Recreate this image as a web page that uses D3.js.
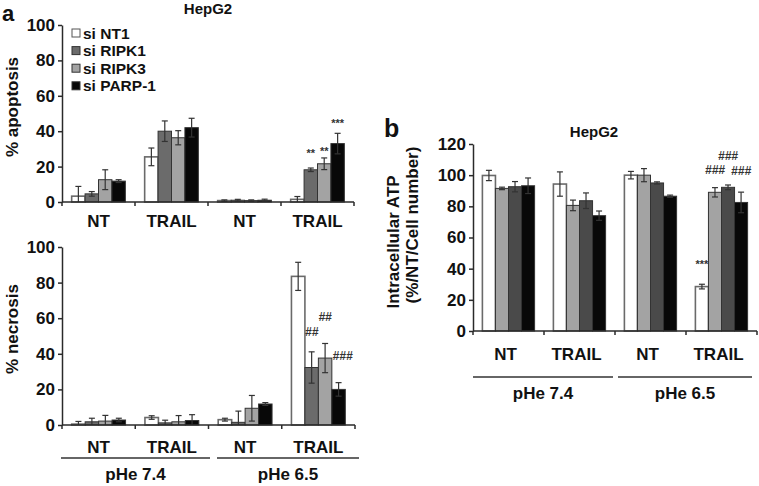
<!DOCTYPE html>
<html><head><meta charset="utf-8">
<script src="https://cdn.jsdelivr.net/npm/d3@7/dist/d3.min.js"></script>
<style>
body{margin:0;background:#fff;}
svg{display:block;font-family:"Liberation Sans",Arial,sans-serif;font-weight:bold;}
</style></head><body>
<svg id="c" width="759" height="486"></svg>
<script>
// ---- data ----
const groups = ["NT|7.4", "TRAIL|7.4", "NT|6.5", "TRAIL|6.5"];
const groupLabels = ["NT", "TRAIL", "NT", "TRAIL"];
const phLabels = ["pHe 7.4", "pHe 6.5"];
const series = ["si NT1", "si RIPK1", "si RIPK3", "si PARP-1"];

// % apoptosis (rows: group, cols: series)
const apoptosis = [[3.3, 4.6, 12.6, 11.8], [25.5, 40, 36.3, 42], [0.8, 1.0, 0.8, 1.0], [1.5, 18.2, 21.6, 33]];
const apoptosisErr = [[5.5, 1.3, 5.6, 0.8], [5, 5.8, 4, 5.3], [0.4, 0.5, 0.4, 0.6], [1.6, 1, 3.3, 5.8]];
// % necrosis
const necrosis = [[0.5, 1.8, 2.2, 2.8], [4.2, 1.2, 1.8, 2.5], [3, 1.5, 9.4, 11.8], [83.5, 32.3, 37.6, 20]];
const necrosisErr = [[1.5, 2, 3.2, 1], [1, 1.5, 3.5, 3.3], [0.8, 6.3, 7.2, 0.8], [7.9, 8.8, 8.2, 3.8]];
// Intracellular ATP
const atp = [[99.8, 91.5, 92.6, 93.2], [94.3, 80.6, 83.6, 74], [100, 100, 95, 86.5], [28.5, 89, 92.2, 82.5]];
const atpErr = [[3.3, 0.8, 3.3, 5], [7.8, 3.4, 5, 3], [2.4, 4.2, 0.7, 0.7], [1.5, 3, 1.5, 6.6]];

const apoTicks = [0, 20, 40, 60, 80, 100];
const necTicks = [0, 20, 40, 60, 80, 100];
const atpTicks = [0, 20, 40, 60, 80, 100, 120];

// significance marks: [group, series, label, value]
const apoMarks = [[3, 1, "**", 27], [3, 2, "**", 28], [3, 3, "***", 44]];
const necMarks = [[3, 1, "##", 52], [3, 2, "##", 60], [3, 3, "###", 38.5]];
const atpMarks = [[3, 0, "***", 42], [3, 1, "###", 103], [3, 2, "###", 112], [3, 3, "###", 102]];

const colorsA = ["#ffffff", "#6b6b6b", "#a3a3a3", "#080808"];
const colorsB = ["#ffffff", "#a3a3a3", "#4a4a4a", "#080808"];

const svg = d3.select("#c");
const AX = "#2a2a2a";

function panel(opt) {
  const x = d3.scaleBand().domain(groups).range([opt.x0, opt.x1]).padding(0);
  const xi = d3.scaleBand().domain(d3.range(4)).range([0, x.bandwidth()]).paddingInner(0).paddingOuter(0.72);
  const y = d3.scaleLinear().domain([0, opt.max]).range([opt.yb, opt.yt]);
  const g = svg.append("g");

  // y axis
  const ya = g.append("g").attr("transform", `translate(${opt.x0},0)`)
    .call(d3.axisLeft(y).tickValues(opt.ticks).tickSize(4).tickSizeOuter(0).tickPadding(3));
  ya.select(".domain").attr("stroke", AX).attr("stroke-width", 1.5);
  ya.selectAll(".tick line").attr("stroke", AX).attr("stroke-width", 1.5);
  ya.selectAll(".tick text").attr("font-size", 17).attr("font-family", "Liberation Sans, Arial").attr("font-weight", "bold").attr("fill", "#111");

  // bars
  opt.data.forEach((row, gi) => {
    row.forEach((v, si) => {
      const bx = x(groups[gi]) + xi(si);
      const bw = xi.bandwidth();
      g.append("rect").attr("x", bx).attr("y", y(v)).attr("width", bw).attr("height", y(0) - y(v))
        .attr("fill", opt.colors[si]).attr("stroke", si === 0 ? "#6a6a6a" : "#333").attr("stroke-width", si === 0 ? 1.6 : 1);
      const e = opt.err[gi][si];
      const cx = bx + bw / 2;
      const eg = g.append("g").attr("stroke", "#333").attr("stroke-width", 1.2);
      eg.append("line").attr("x1", cx).attr("x2", cx).attr("y1", y(Math.max(0, v - e))).attr("y2", y(v + e));
      eg.append("line").attr("x1", cx - 3).attr("x2", cx + 3).attr("y1", y(v + e)).attr("y2", y(v + e));
      if (v - e > 0) eg.append("line").attr("x1", cx - 3).attr("x2", cx + 3).attr("y1", y(v - e)).attr("y2", y(v - e));
    });
  });

  // x axis line & ticks
  g.append("line").attr("x1", opt.x0).attr("x2", opt.x1).attr("y1", y(0)).attr("y2", y(0)).attr("stroke", AX).attr("stroke-width", 1.5);
  const bounds = groups.map(d => x(d)).concat([opt.x1]);
  g.selectAll(".xt").data(bounds).enter().append("line")
    .attr("x1", d => d).attr("x2", d => d).attr("y1", y(0)).attr("y2", y(0) + 4).attr("stroke", AX).attr("stroke-width", 1.5);

  // group labels
  g.selectAll(".gl").data(groups).enter().append("text")
    .attr("x", (d, i) => x(d) + x.bandwidth() / 2 + (opt.labelDx || 0)).attr("y", opt.labelY)
    .attr("text-anchor", "middle").attr("font-size", 17).attr("fill", "#111")
    .text((d, i) => groupLabels[i]);

  // marks
  opt.marks.forEach(m => {
    const cx = x(groups[m[0]]) + xi(m[1]) + xi.bandwidth() / 2 + (m[4] || 0);
    g.append("text").attr("x", cx).attr("y", y(m[3])).attr("text-anchor", "middle")
      .attr("dominant-baseline", "middle").attr("font-size", m[2][0] === "#" ? 12 : 11).attr("fill", "#333")
      .attr("font-style", m[2][0] === "#" ? "italic" : "normal")
      .text(m[2]);
  });
  return {x, y};
}

// Panel a top
panel({x0: 62, x1: 354, yb: 202, yt: 25, max: 100, ticks: apoTicks, data: apoptosis, err: apoptosisErr,
  colors: colorsA, marks: apoMarks, labelY: 227});
// Panel a bottom
const pb = panel({x0: 62, x1: 355, yb: 425, yt: 247, max: 100, ticks: necTicks, data: necrosis, err: necrosisErr,
  colors: colorsA, marks: necMarks.map((m, i) => i === 2 ? m.concat([4]) : m), labelY: 453});
// Panel b
const pc = panel({x0: 473, x1: 757, yb: 331, yt: 144, max: 120, ticks: atpTicks, data: atp, err: atpErr,
  colors: colorsB, marks: atpMarks, labelY: 360, labelDx: -3});

// pHe lines and labels
function phe(y, yl, segs) {
  segs.forEach((s, i) => {
    svg.append("line").attr("x1", s[0]).attr("x2", s[1]).attr("y1", y).attr("y2", y).attr("stroke", "#333").attr("stroke-width", 1.5);
    svg.append("text").attr("x", (s[0] + s[1]) / 2).attr("y", yl).attr("text-anchor", "middle").attr("font-size", 17).attr("fill", "#111").text(phLabels[i]);
  });
}
phe(458, 480, [[61, 210], [217, 359]]);
phe(377, 399, [[473, 613], [618, 752]]);

// titles
svg.append("text").attr("x", 2).attr("y", 21).attr("font-size", 22).attr("fill", "#111").text("a");
svg.append("text").attr("x", 208).attr("y", 14).attr("text-anchor", "middle").attr("font-size", 15).attr("fill", "#111").text("HepG2");
svg.append("text").attr("x", 384).attr("y", 137).attr("font-size", 25).attr("fill", "#111").text("b");
svg.append("text").attr("x", 594).attr("y", 137).attr("text-anchor", "middle").attr("font-size", 15).attr("fill", "#111").text("HepG2");

// y titles
function ytitle(x, y, t) {
  svg.append("text").attr("transform", `translate(${x},${y}) rotate(-90)`).attr("text-anchor", "middle")
    .attr("font-size", 17).attr("fill", "#111").text(t);
}
ytitle(18, 107, "% apoptosis");
ytitle(18, 329, "% necrosis");
ytitle(399, 242, "Intracellular ATP");
ytitle(418, 225, "(%/NT/Cell number)");

// legend
const lg = svg.append("g");
series.forEach((s, i) => {
  const ly = 33 + i * 17.6;
  lg.append("rect").attr("x", 72).attr("y", ly - 4).attr("width", 8).attr("height", 8)
    .attr("fill", colorsA[i]).attr("stroke", i === 0 ? "#555" : "#333").attr("stroke-width", 1);
  lg.append("text").attr("x", 83).attr("y", ly).attr("dominant-baseline", "central").attr("font-size", 15.5).attr("fill", "#111").text(s);
});
</script>
</body></html>
